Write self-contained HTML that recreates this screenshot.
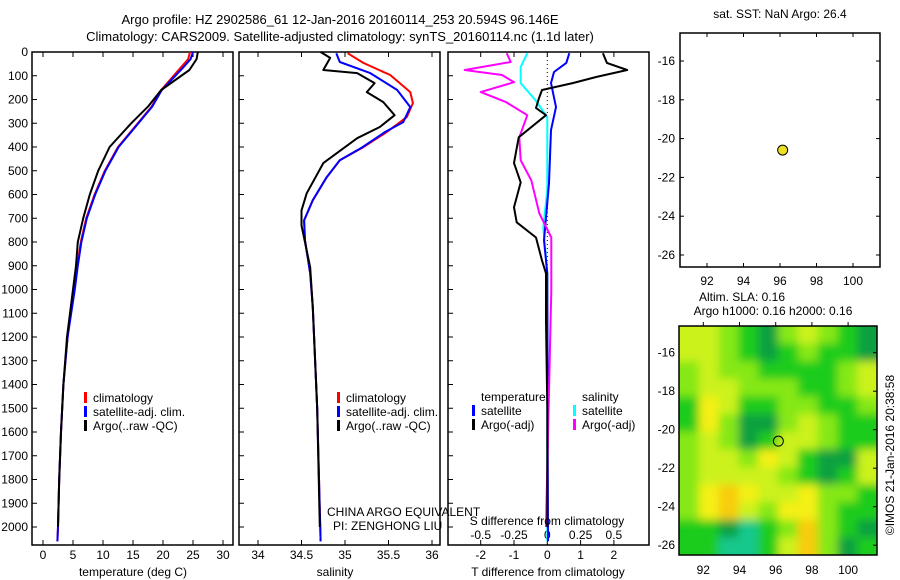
<!DOCTYPE html>
<html><head><meta charset="utf-8"><style>
body{margin:0;background:#fff;}
svg{display:block;font-family:"Liberation Sans",Arial,sans-serif;}
text{font-size:12px;fill:#000;}
</style></head><body>
<svg id="chart" width="900" height="580" viewBox="0 0 900 580">
<defs>
<clipPath id="mapclip"><rect x="679" y="326" width="198" height="229"/></clipPath>
<filter id="blur" x="-10%" y="-10%" width="120%" height="120%"><feGaussianBlur stdDeviation="4.5"/></filter>
</defs>
<text x="340" y="24" text-anchor="middle" style="font-size:13px">Argo profile: HZ 2902586_61 12-Jan-2016 20160114_253 20.594S 96.146E</text>
<text x="340" y="41" text-anchor="middle" style="font-size:13px">Climatology: CARS2009. Satellite-adjusted climatology: synTS_20160114.nc (1.1d later)</text>
<g id="g"></g>
</svg>
<script>
// ---- data ----
const tempDepths = [0,30,76,160,230,300,400,500,600,700,800,900,1000,1200,1400,1600,1800,2000];
const tempArgo   = [25.8,25.6,24.4,19.7,17.5,14.7,11.1,9.2,7.8,6.7,5.8,5.5,5.0,4.0,3.4,3.0,2.7,2.5];
const climDepths = [0,30,70,160,230,300,400,500,600,700,800,900,1000,1200,1400,1600,1800,2000,2060];
const tempClim   = [24.5,24.2,22.8,19.7,18.1,15.8,12.5,10.3,8.6,7.2,6.3,5.7,5.2,4.1,3.4,3.0,2.7,2.5,2.4];
const tempSat    = [25.0,24.6,23.2,19.8,18.2,15.9,12.6,10.4,8.7,7.3,6.4,5.8,5.3,4.1,3.4,3.0,2.7,2.5,2.4];

const salArgoD = [0,25,76,89,131,169,211,266,316,363,468,595,667,730,907,1076,1500,2000];
const salArgo  = [34.72,34.83,34.75,35.14,35.34,35.25,35.44,35.57,35.40,35.14,34.75,34.56,34.5,34.5,34.6,34.63,34.68,34.71];
const salClimD = [5,46,97,169,215,274,337,401,456,527,624,709,793,932,1076,1500,2060];
const salClim  = [35.03,35.21,35.52,35.75,35.78,35.71,35.48,35.21,34.94,34.79,34.63,34.53,34.54,34.6,34.63,34.68,34.72];
const salSatD  = [5,42,89,160,232,295,337,401,456,527,624,709,793,932,1076,1500,2060];
const salSat   = [34.9,34.94,35.29,35.6,35.75,35.67,35.46,35.2,34.94,34.79,34.63,34.53,34.54,34.6,34.63,34.68,34.72];

const tdArgoD = [5,46,76,105,131,160,194,236,266,359,468,549,654,717,781,878,932,1131,1500,2000];
const tdArgo  = [1.67,1.79,2.4,1.48,0.76,-0.16,-0.25,-0.34,-0.04,-0.86,-1.0,-0.8,-1.0,-0.92,-0.34,-0.16,-0.04,-0.04,0,0];
const tdSatD  = [5,46,84,131,232,329,553,793,932,2060];
const tdSat   = [0.66,0.57,0.2,0.11,0.26,0.11,0.05,-0.1,0,0.02];
const sdArgoD = [5,42,76,97,127,169,211,266,359,456,540,679,781,1004,1500,2000];
const sdArgo  = [-0.305,-0.275,-0.62,-0.34,-0.25,-0.5,-0.31,-0.15,-0.21,-0.2,-0.12,-0.06,0.03,0.03,0.01,-0.01];
const sdSatD  = [5,63,131,202,274,582,738,932,2060];
const sdSat   = [-0.15,-0.2,-0.2,-0.09,0,0,-0.03,0,0];

const tempTicks=[0,5,10,15,20,25,30];
const salTicks=[34,34.5,35,35.5,36];
const tdTicks=[-2,-1,0,1,2];
const sdTicks=[-0.5,-0.25,0,0.25,0.5];
const sdTickLabels=["-0.5","-0.25","0","0.25","0.5"];
const latTicks=[-16,-18,-20,-22,-24,-26];
const lonTicks=[92,94,96,98,100];
const profLon=96.146, profLat=-20.594;
// SLA map grid (levels -1..5), rows north->south
const slaGrid=[
[3,3,2,1,0,2,3,2,1,0],
[3,3,2,1,0,1,2,1,1,0],
[2,3,2,2,1,1,1,1,2,3],
[2,3,3,2,2,2,1,1,2,3],
[1,4,3,1,1,2,2,1,1,2],
[1,4,2,0,0,2,3,2,1,1],
[2,3,2,0,1,3,3,2,1,1],
[2,3,3,2,4,3,1,0,0,3],
[2,3,3,3,3,2,1,0,1,3],
[2,4,5,4,3,3,4,2,2,1],
[2,4,5,3,2,4,4,2,1,1],
[1,1,0,-1,1,2,5,2,1,0],
[1,1,-1,-1,1,3,5,2,0,1]];
const slaColors={"-1":"#18c88c","0":"#0ea040","1":"#1ecc1e","2":"#86e812","3":"#ccf21a","4":"#f4f018","5":"#f8cc10"};

// ---- helpers ----
const NS="http://www.w3.org/2000/svg";
const G=document.getElementById('g');
function mk(tag,attrs,parent){const e=document.createElementNS(NS,tag);for(const k in attrs)e.setAttribute(k,attrs[k]);(parent||G).appendChild(e);return e;}
function txt(x,y,s,anchor,parent,size){const e=mk('text',{x:x,y:y,'text-anchor':anchor||'middle'},parent);if(size)e.style.fontSize=size+'px';e.textContent=s;return e;}
const yD=d=>52+d*0.2375;
const xT=t=>43+t*6;
const xS=s=>258+(s-34)*87;
const xTD=v=>547.3+v*33.3;
const xSD=v=>547.3+v*133.2;

function panel(x0,x1,name){
  const r=mk('rect',{x:x0,y:52,width:x1-x0,height:493,fill:'none',stroke:'#000','stroke-width':1.5});
  
  
  for(let d=0;d<=2000;d+=100){mk('line',{x1:x0,x2:x0+5,y1:yD(d),y2:yD(d),stroke:'#000'});}
}
function xticks(xs,f,labels,y,name,noTop){
  xs.forEach((v,i)=>{const x=f(v);
    if(!noTop)mk('line',{x1:x,x2:x,y1:52,y2:57,stroke:'#000'});
    mk('line',{x1:x,x2:x,y1:545,y2:540,stroke:'#000'});
    const t=txt(x,y,labels[i]);
    
    
  });
}
function line(ds,vs,fx,color,name,w){
  const pts=ds.map((d,i)=>fx(vs[i]).toFixed(1)+','+yD(d).toFixed(1)).join(' ');
  const p=mk('polyline',{points:pts,fill:'none',stroke:color,'stroke-width':w||2,'stroke-linejoin':'round'});
  
  
}
function legItem(x,y,color,label,name){
  mk('rect',{x:x,y:y-10,width:3,height:11,fill:color});
  const t=txt(x+9,y,label,'start');
  
  
}

// depth labels
for(let d=0;d<=2000;d+=100){const t=txt(28,yD(d)+4,String(d),'end');
  
  }

// panel 1
panel(32,233,'temperature-panel');
xticks(tempTicks,xT,tempTicks.map(String),559,'temperature-tick-label');
txt(133,576,'temperature (deg C)');
line(climDepths,tempClim,xT,'#f00','temp-climatology-line');
line(climDepths,tempSat,xT,'#00f','temp-satellite-line');
line(tempDepths,tempArgo,xT,'#000','temp-argo-line');
legItem(84,402,'#f00','climatology','legend-climatology');
legItem(84,416,'#00f','satellite-adj. clim.','legend-satellite');
legItem(84,430,'#000','Argo(..raw -QC)','legend-argo');

// panel 2
panel(239,440,'salinity-panel');
xticks(salTicks,xS,salTicks.map(String),559,'salinity-tick-label');
txt(335,576,'salinity');
line(salClimD,salClim,xS,'#f00','sal-climatology-line');
line(salSatD,salSat,xS,'#00f','sal-satellite-line');
line(salArgoD,salArgo,xS,'#000','sal-argo-line');
legItem(337,402,'#f00','climatology','legend-climatology-2');
legItem(337,416,'#00f','satellite-adj. clim.','legend-satellite-2');
legItem(337,430,'#000','Argo(..raw -QC)','legend-argo-2');
txt(327,516,'CHINA ARGO EQUIVALENT','start');
txt(333,530,'PI: ZENGHONG LIU','start');

// panel 3
panel(448,649,'difference-panel');
xticks(tdTicks,xTD,tdTicks.map(String),559,'t-diff-tick-label',true);
sdTicks.forEach((v,i)=>{const t=txt(xSD(v),539,sdTickLabels[i]);
  
  });
[-2,-1,0,1,2].forEach(v=>mk('line',{x1:xTD(v),x2:xTD(v),y1:52,y2:57,stroke:'#000'}));
mk('line',{x1:xTD(0),x2:xTD(0),y1:52,y2:545,stroke:'#000','stroke-dasharray':'1,3'});
line(sdSatD,sdSat,xSD,'#0ff','s-diff-satellite-line');
line(tdSatD,tdSat,xTD,'#00f','t-diff-satellite-line');
line(sdArgoD,sdArgo,xSD,'#f0f','s-diff-argo-line');
line(tdArgoD,tdArgo,xTD,'#000','t-diff-argo-line');
txt(547,525,'S difference from climatology');
txt(548,576,'T difference from climatology');
txt(481,401,'temperature','start');
txt(582,401,'salinity','start');
legItem(472,415,'#00f','satellite','legend-t-satellite');
legItem(472,429,'#000','Argo(-adj)','legend-t-argo');
legItem(573,415,'#0ff','satellite','legend-s-satellite');
legItem(573,429,'#f0f','Argo(-adj)','legend-s-argo');

// map 1 (SST)
const m1x=lon=>707+(lon-92)*18.25, m1y=lat=>61+(-16-lat)*19.4;
const m1=mk('rect',{x:680,y:33,width:200,height:234,fill:'#fff',stroke:'#000','stroke-width':1.5});


txt(780,18,'sat. SST: NaN Argo: 26.4');
latTicks.forEach(l=>{mk('line',{x1:680,x2:684,y1:m1y(l),y2:m1y(l),stroke:'#000'});mk('line',{x1:876,x2:880,y1:m1y(l),y2:m1y(l),stroke:'#000'});txt(675,m1y(l)+4,String(l),'end');});
lonTicks.forEach(l=>{mk('line',{x1:m1x(l),x2:m1x(l),y1:33,y2:37,stroke:'#000'});mk('line',{x1:m1x(l),x2:m1x(l),y1:263,y2:267,stroke:'#000'});txt(m1x(l),285,String(l));});
const dot=mk('circle',{cx:m1x(profLon),cy:m1y(profLat),r:5,fill:'#e8e020',stroke:'#000'});



// map 2 (SLA)
const m2x=lon=>703.3+(lon-92)*18.1, m2y=lat=>352.7+(-16-lat)*19.25;
txt(742,301,'Altim. SLA: 0.16');
txt(773,315,'Argo h1000: 0.16 h2000: 0.16');
const hg=mk('g',{'clip-path':'url(#mapclip)'});


const inner=mk('g',{filter:'url(#blur)'},hg);
const nr=slaGrid.length,nc=slaGrid[0].length,cw=198/nc,ch=229/nr;
for(let r=-2;r<nr+2;r++)for(let c=-2;c<nc+2;c++){
  const rr=Math.min(nr-1,Math.max(0,r)),cc=Math.min(nc-1,Math.max(0,c));
  const cell=mk('rect',{x:679+c*cw,y:326+r*ch,width:cw+0.6,height:ch+0.6,fill:slaColors[String(slaGrid[rr][cc])]},inner);
  
  
}
mk('rect',{x:679,y:326,width:198,height:229,fill:'none',stroke:'#000','stroke-width':1.5});
latTicks.forEach(l=>{mk('line',{x1:873,x2:877,y1:m2y(l),y2:m2y(l),stroke:'#000'});txt(675,m2y(l)+4,String(l),'end');});
lonTicks.forEach(l=>{mk('line',{x1:m2x(l),x2:m2x(l),y1:322,y2:326,stroke:'#000'});txt(m2x(l),574,String(l));});
const c2=mk('circle',{cx:m2x(profLon),cy:m2y(profLat),r:5,fill:'none',stroke:'#000'});


const cr=txt(0,0,'©IMOS 21-Jan-2016 20:38:58');
cr.setAttribute('transform','translate(894,455) rotate(-90)');
</script>
</body></html>
